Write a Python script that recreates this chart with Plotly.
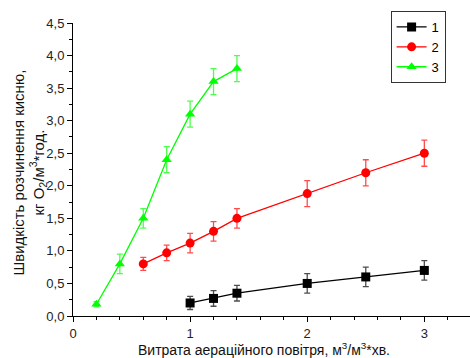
import plotly.graph_objects as go

x1 = [1.0, 1.2, 1.4, 2.0, 2.5, 3.0]
y1 = [0.20, 0.27, 0.35, 0.50, 0.60, 0.70]
e1 = [0.10, 0.12, 0.12, 0.15, 0.15, 0.15]

x2 = [0.6, 0.8, 1.0, 1.2, 1.4, 2.0, 2.5, 3.0]
y2 = [0.80, 0.97, 1.12, 1.30, 1.50, 1.88, 2.20, 2.50]
e2 = [0.10, 0.12, 0.15, 0.15, 0.15, 0.20, 0.20, 0.20]

x3 = [0.2, 0.4, 0.6, 0.8, 1.0, 1.2, 1.4]
y3 = [0.18, 0.80, 1.50, 2.40, 3.10, 3.60, 3.80]
e3 = [0.04, 0.15, 0.15, 0.20, 0.20, 0.20, 0.20]

names = ["1", "2", "3"]
colors = ["#000000", "#ff0000", "#00ff00"]
errcolors = ["rgba(0,0,0,0.7)", "rgba(255,0,0,0.7)", "rgba(0,255,0,0.7)"]
symbols = ["square", "circle", "triangle-up"]

ytitle1 = "Швидкість розчинення кисню,"
ytitle2 = "кг O<sub>2</sub>/м<sup>3</sup>*год."
xtitle = "Витрата аераційного повітря, м<sup>3</sup>/м<sup>3</sup>*хв."

fig = go.Figure()
for xs, ys, es, n, c, ec, s in zip([x1, x2, x3], [y1, y2, y3], [e1, e2, e3], names, colors, errcolors, symbols):
    fig.add_trace(go.Scatter(
        x=xs, y=ys, name=n, mode="lines+markers",
        line=dict(color=c, width=1.3),
        marker=dict(symbol=s, size=9, color=c),
        error_y=dict(type="data", array=es, visible=True, color=ec, thickness=1.3, width=3),
    ))

font = dict(family="Liberation Sans, Arial, sans-serif", size=13, color="#222")
fig.update_layout(
    width=470, height=358,
    margin=dict(l=73, r=0, t=23, b=42),
    paper_bgcolor="white", plot_bgcolor="white",
    separators=", ",
    font=font,
    showlegend=True,
    legend=dict(x=0.80, y=1.041, xanchor="left", yanchor="top",
                bordercolor="#333", borderwidth=1, bgcolor="white",
                font=dict(size=13, color="#000"), itemwidth=30, tracegroupgap=0),
    xaxis=dict(range=[0, 3.39], tickmode="array", tickvals=[0, 1, 2, 3], ticktext=["0", "1", "2", "3"],
               showgrid=False, zeroline=False, showline=True, linecolor="#000", linewidth=1,
               ticks="outside", ticklen=5, tickcolor="#000", automargin=False,
               minor=dict(dtick=0.2, ticks="outside", ticklen=3, tickcolor="#000", showgrid=False)),
    yaxis=dict(range=[0, 4.5], tickmode="array",
               tickvals=[0, 0.5, 1, 1.5, 2, 2.5, 3, 3.5, 4, 4.5],
               ticktext=["0,0", "0,5", "1,0", "1,5", "2,0", "2,5", "3,0", "3,5", "4,0", "4,5"],
               showgrid=False, zeroline=False, showline=True, linecolor="#000", linewidth=1,
               ticks="outside", ticklen=5, tickcolor="#000", automargin=False,
               minor=dict(dtick=0.25, ticks="outside", ticklen=3, tickcolor="#000", showgrid=False)),
)

title_font = dict(family="Liberation Sans, Arial, sans-serif", size=14, color="#111")
ytitle_font = dict(family="Liberation Sans, Arial, sans-serif", size=15, color="#111")
fig.add_annotation(text=ytitle1, xref="paper", yref="paper", x=0, y=0.5, xanchor="center", yanchor="middle",
                   xshift=-55, yshift=-3, textangle=-90, showarrow=False, font=ytitle_font)
fig.add_annotation(text=ytitle2, xref="paper", yref="paper", x=0, y=0.5, xanchor="center", yanchor="middle",
                   xshift=-35, yshift=-3, textangle=-90, showarrow=False, font=ytitle_font)
fig.add_annotation(text=xtitle, xref="paper", yref="paper", x=0.482, y=0, xanchor="center", yanchor="middle",
                   yshift=-33, showarrow=False, font=title_font)

fig.write_html("out.html", config={"displayModeBar": False},
               post_script="document.body.style.margin='0';document.body.style.overflow='hidden';")
